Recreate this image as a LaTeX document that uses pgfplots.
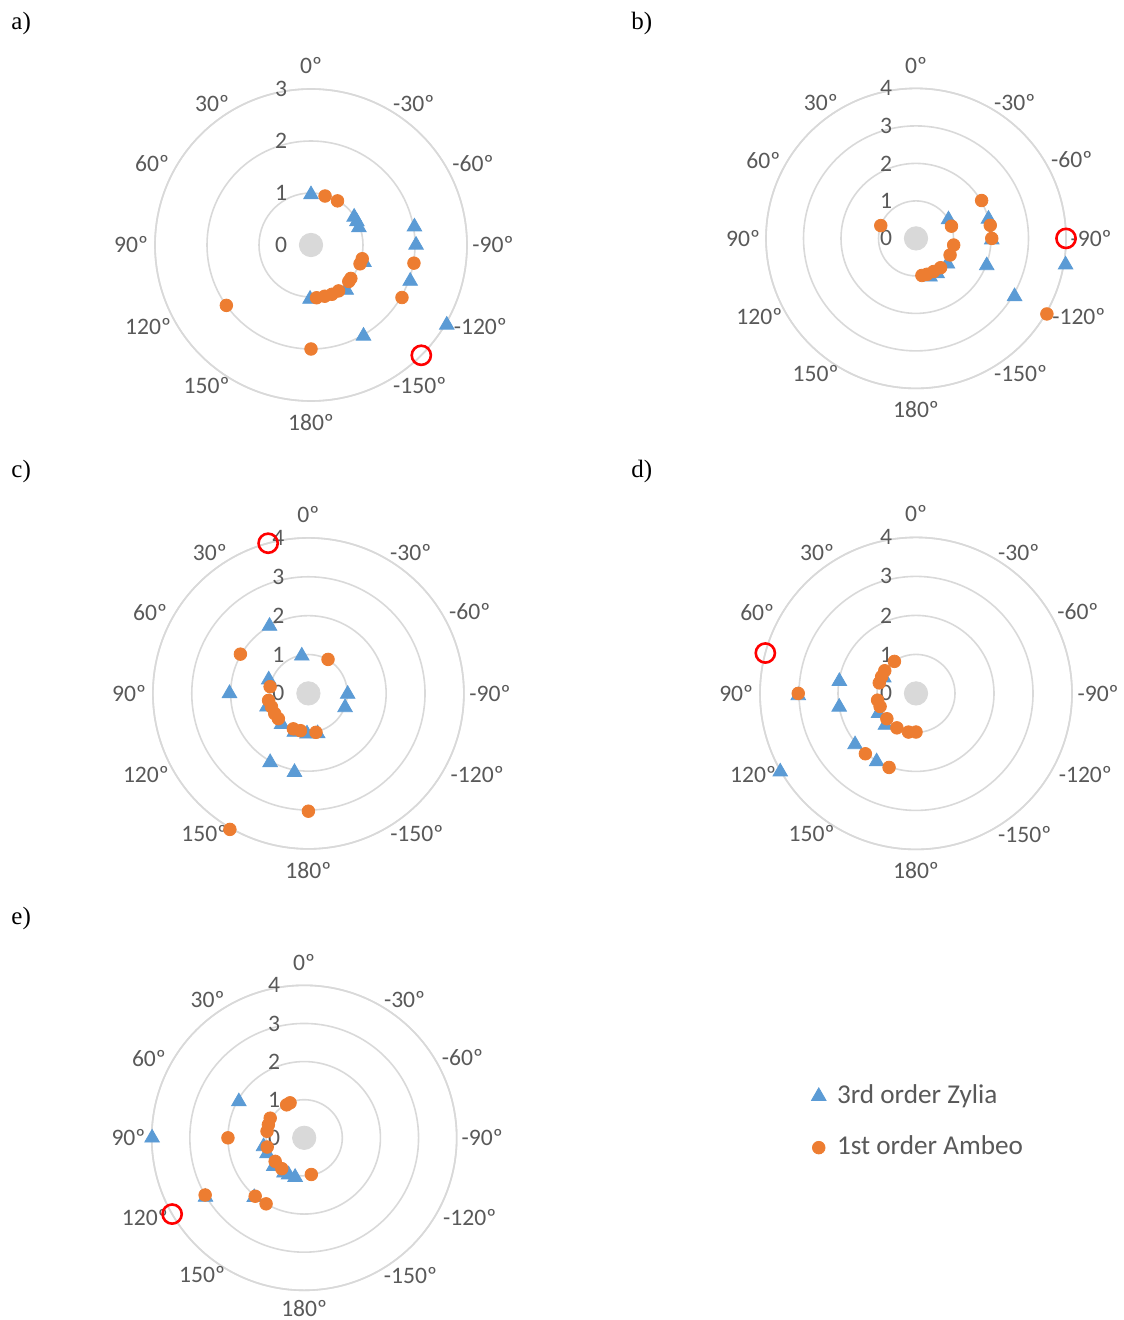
\documentclass[border=0pt]{standalone}
\usepackage{pgfplots}
\pgfplotsset{compat=1.18}
\usepackage{pgfplotstable}
\usepgfplotslibrary{polar}
\usepackage{fontspec}
\setmainfont{Carlito}
\newfontfamily\labfont{Liberation Serif}
\definecolor{zyl}{HTML}{5B9BD5}
\definecolor{amb}{HTML}{ED7D31}
\definecolor{gridc}{HTML}{D9D9D9}
\definecolor{txt}{HTML}{595959}
\newcommand\tickfont{\fontsize{11.8pt}{14pt}\selectfont}
\newcommand\legfont{\fontsize{13.6pt}{16pt}\selectfont}

% angle t in degrees (0 = front/top, positive to the left), radius r
\pgfplotstableread{
t r
0 0.97
-57 0.99
-63 0.99
-70 0.98
-80 2.02
-90 2.02
-108 1.07
-110 2.03
-120.5 3.03
-142 1.1
-150 2.02
179 1.04
}\aZ
\pgfplotstableread{
t r
-16 0.98
-31 0.99
-105 1.02
-111 1.01
-130 1.0
-134 1.01
-149 1.03
-157 1.03
-165 1.02
-174 1.02
-100 2.01
-120 2.02
180 2.0
125.5 2.0
}\aA
\pgfplotstableread{
t r
-135 3
}\aT

\pgfplotstableread{
t r
-60 1.0
-75 2.0
-91 2.02
-100 4.05
-111 2.02
-120.5 3.05
-129 1.08
-149 1.09
-160 1.09
}\bZ
\pgfplotstableread{
t r
-60 2.02
-80 2.01
-90 2.02
-71 1.0
-100 1.02
-116 1.01
-140 1.02
-152 1.0
-163 1.0
-171 1.0
70 1.0
-120 4.03
}\bA
\pgfplotstableread{
t r
-90 4
}\bT

\pgfplotstableread{
t r
10 0.98
30 2.0
90 2.03
-91 1.01
-111 1.01
151 2.03
170 2.06
71 1.08
108 1.12
139 1.05
160 1.06
178 1.04
-167 1.06
}\cZ
\pgfplotstableread{
t r
-30 1.01
60 2.02
80 1.0
100 1.04
110 1.01
121 1.01
130 1.01
157 0.99
168 0.98
-169 1.02
180 3.03
150 4.04
}\cA
\pgfplotstableread{
t r
15 4
}\cT

\pgfplotstableread{
t r
81 1.99
100 2.0
91 3.02
130 2.04
150 2.02
120 4.02
64 0.92
118 1.09
136 1.13
}\dZ
\pgfplotstableread{
t r
34 0.99
54 0.99
64 0.98
74 0.98
100 1.0
110 0.98
131 0.99
151 1.01
169 1.01
180 0.99
90 3.02
140 2.02
160 2.02
}\dA
\pgfplotstableread{
t r
75 4
}\dT

\pgfplotstableread{
t r
61 1.96
90 3.99
121 3.02
140 2.04
102 1.09
113 1.06
133 1.09
150 1.06
157 1.05
167 1.06
}\eZ
\pgfplotstableread{
t r
22 0.99
28 0.98
60 1.03
70 1.0
80 0.99
104 1.0
129 0.98
144 1.0
-169 0.98
90 2.0
120 3.0
140 2.0
150 2.0
}\eA
\pgfplotstableread{
t r
120 4
}\eT

\pgfplotsset{
  panel/.style={
    scale only axis, width=#1, height=#1,
    anchor=center, clip=false,
    ymin=0,
    xtick=\empty,
    yticklabels={},
    major tick length=0pt,
    xmajorgrids=false, ymajorgrids=true,
    grid style={draw=gridc, line width=0.8pt},
    separate axis lines,
    x axis line style={draw=gridc, line width=0.8pt},
    y axis line style={draw=none},
  },
  zyl/.style={only marks, mark=triangle*, mark size=4.2pt, color=zyl, mark options={draw=none, fill=zyl}},
  amb/.style={only marks, mark=*, mark size=3.15pt, color=amb, mark options={draw=none, fill=amb}},
  ctr/.style={only marks, mark=*, mark size=5.85pt, color=gridc, mark options={draw=none, fill=gridc}, forget plot},
  tgt/.style={only marks, mark=o, mark size=4.8pt, color=red, mark options={draw=red, line width=1.3pt}, forget plot},
}
\tikzset{
  rlab/.style={font=\tickfont, text=txt, xshift=-15pt, inner sep=0pt},
  alab/.style={font=\tickfont, text=txt, inner sep=0pt, anchor=center},
}
\newcommand\plotset[3]{%
  \addplot[ctr] coordinates {(0,0)};
  \addplot[zyl] table[x expr=\thisrow{t}+90, y=r]{#1};
  \addplot[amb] table[x expr=\thisrow{t}+90, y=r]{#2};
  \addplot[tgt] table[x expr=\thisrow{t}+90, y=r]{#3};
}
% radial value labels, along the 0 degree direction
\newcommand\rlabsF{%
  \node[rlab] at (axis cs:90,0) {0};
  \node[rlab] at (axis cs:90,1) {1};
  \node[rlab] at (axis cs:90,2) {2};
  \node[rlab] at (axis cs:90,3) {3};
  \node[rlab] at (axis cs:90,4) {4};
}
% angle labels (polar angle = label angle + 90), radius for ymax = 4
\newcommand\alabsF[1][4.55]{%
  \node[alab] at (axis cs:90,4.60) {0º};
  \node[alab] at (axis cs:125,4.42) {30º};
  \node[alab] at (axis cs:153,4.57) {60º};
  \node[alab] at (axis cs:180,4.61) {90º};
  \node[alab] at (axis cs:206.5,4.67) {120º};
  \node[alab] at (axis cs:233.3,4.48) {150º};
  \node[alab] at (axis cs:270,#1) {180º};
  \node[alab] at (axis cs:307.7,4.56) {-150º};
  \node[alab] at (axis cs:334.3,4.82) {-120º};
  \node[alab] at (axis cs:0,4.67) {-90º};
  \node[alab] at (axis cs:26.8,4.65) {-60º};
  \node[alab] at (axis cs:54,4.48) {-30º};
}
% same for ymax = 3
\newcommand\alabsT{%
  \node[alab] at (axis cs:90,3.45) {0º};
  \node[alab] at (axis cs:125,3.315) {30º};
  \node[alab] at (axis cs:153,3.43) {60º};
  \node[alab] at (axis cs:180,3.46) {90º};
  \node[alab] at (axis cs:206.5,3.50) {120º};
  \node[alab] at (axis cs:233.3,3.36) {150º};
  \node[alab] at (axis cs:270,3.41) {180º};
  \node[alab] at (axis cs:307.7,3.42) {-150º};
  \node[alab] at (axis cs:334.3,3.615) {-120º};
  \node[alab] at (axis cs:0,3.50) {-90º};
  \node[alab] at (axis cs:26.8,3.49) {-60º};
  \node[alab] at (axis cs:54,3.36) {-30º};
}

\begin{document}
\begin{tikzpicture}
\useasboundingbox (0,0) rectangle (561.5pt,-660pt);
\tikzset{plab/.style={font=\labfont\fontsize{12.5pt}{14pt}\selectfont, anchor=west, inner sep=0pt}}
\node[plab] at (5.5pt,-11.5pt) {a)};
\node[plab] at (315.5pt,-11.5pt) {b)};
\node[plab] at (5.5pt,-235.5pt) {c)};
\node[plab] at (315.5pt,-235.5pt) {d)};
\node[plab] at (5.5pt,-459pt) {e)};

% a)
\begin{polaraxis}[panel=156pt, at={(155.5pt,-122.5pt)}, ymax=3, ytick={1,2,3}]
\plotset{\aZ}{\aA}{\aT}
\node[rlab] at (axis cs:90,0) {0};
\node[rlab] at (axis cs:90,1) {1};
\node[rlab] at (axis cs:90,2) {2};
\node[rlab] at (axis cs:90,3) {3};
\alabsT
\end{polaraxis}

% b)
\begin{polaraxis}[panel=150pt, at={(458pt,-119.2pt)}, ymax=4, ytick={1,2,3,4}]
\plotset{\bZ}{\bA}{\bT}
\rlabsF
\alabsF
\end{polaraxis}

% c)
\begin{polaraxis}[panel=155.5pt, at={(154.2pt,-346.7pt)}, ymax=4, ytick={1,2,3,4}]
\plotset{\cZ}{\cA}{\cT}
\rlabsF
\alabsF
\end{polaraxis}

% d)
\begin{polaraxis}[panel=156pt, at={(458pt,-346.7pt)}, ymax=4, ytick={1,2,3,4}]
\plotset{\dZ}{\dA}{\dT}
\rlabsF
\alabsF
\end{polaraxis}

% e)
\begin{polaraxis}[panel=152.5pt, at={(152.1pt,-568.9pt)}, ymax=4, ytick={1,2,3,4},
  legend style={at={(2.162,0.552)}, anchor=west, draw=none, fill=none, inner sep=0pt,
    font=\legfont, text=txt, row sep=12.5pt,
    nodes={inner ysep=0pt, inner xsep=5.5pt, text height=10pt, text depth=3.2pt}},
  legend cell align=left,
  legend image code/.code={\draw[#1] plot coordinates {(0pt,0pt)};}]
\addplot[ctr] coordinates {(0,0)};
\addplot[zyl] table[x expr=\thisrow{t}+90, y=r]{\eZ};
\addlegendentry{3rd order Zylia}
\addplot[amb] table[x expr=\thisrow{t}+90, y=r]{\eA};
\addlegendentry{1st order Ambeo}
\addplot[tgt] table[x expr=\thisrow{t}+90, y=r]{\eT};
\rlabsF
\alabsF[4.47]
\end{polaraxis}
\end{tikzpicture}
\end{document}
